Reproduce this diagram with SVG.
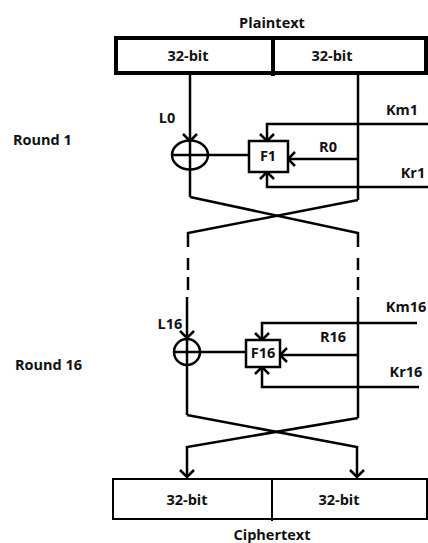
<svg xmlns="http://www.w3.org/2000/svg" width="428" height="543" viewBox="0 0 428 543">
<defs>
<style>
.t{font-family:"Open Sans","DejaVu Sans",sans-serif;font-weight:bold;font-size:14.5px;fill:#111;text-anchor:middle}
.tl{font-family:"Open Sans","DejaVu Sans",sans-serif;font-weight:bold;font-size:14.5px;fill:#111}
.ln{stroke:#000;stroke-width:2.5;fill:none}
.box{stroke:#000;fill:#fff}
</style>
<marker id="ah" viewBox="-10 -10 20 20" refX="0" refY="0" markerWidth="20" markerHeight="20" markerUnits="userSpaceOnUse" orient="auto">
<path d="M-7,-7 L0,0 L-7,7" fill="none" stroke="#000" stroke-width="2.5"/>
</marker>
</defs>
<rect width="428" height="543" fill="#fff"/>

<g id="plaintext">
<text class="t" x="272" y="28">Plaintext</text>
<rect class="box" x="116" y="38" width="310" height="35" stroke-width="4"/>
<line x1="273" y1="38" x2="273" y2="76" stroke="#000" stroke-width="4"/>
<text class="t" x="188" y="61">32-bit</text>
<text class="t" x="332" y="61">32-bit</text>
</g>

<g id="round1-label"><text class="tl" x="13" y="145">Round 1</text></g>
<g id="round16-label"><text class="tl" x="15" y="370">Round 16</text></g>

<g id="connectors">
<!-- Round 1 -->
<line class="ln" x1="190" y1="73" x2="190" y2="141" marker-end="url(#ah)"/>
<line class="ln" x1="190" y1="141" x2="190" y2="197"/>
<line class="ln" x1="358" y1="73" x2="358" y2="200"/>
<line class="ln" x1="208" y1="155" x2="249" y2="155"/>
<polyline class="ln" points="428,124 267,124 267,141" marker-end="url(#ah)"/>
<polyline class="ln" points="428,187 267,187 267,172" marker-end="url(#ah)"/>
<line class="ln" x1="358" y1="159" x2="288" y2="159" marker-end="url(#ah)"/>
<!-- cross 1 -->
<polyline class="ln" points="190,197 358,233 358,247"/>
<polyline class="ln" points="358,200 188,233 188,247"/>
<line class="ln" x1="188" y1="258" x2="188" y2="270"/>
<line class="ln" x1="188" y1="277" x2="188" y2="290"/>
<line class="ln" x1="358" y1="258" x2="358" y2="270"/>
<line class="ln" x1="358" y1="277" x2="358" y2="290"/>
<!-- Round 16 -->
<line class="ln" x1="187" y1="297" x2="187" y2="338" marker-end="url(#ah)"/>
<line class="ln" x1="187" y1="338" x2="187" y2="415"/>
<line class="ln" x1="358" y1="297" x2="358" y2="418"/>
<line class="ln" x1="200" y1="352" x2="246" y2="352"/>
<polyline class="ln" points="417,323 262,323 262,340" marker-end="url(#ah)"/>
<polyline class="ln" points="419,387 262,387 262,367" marker-end="url(#ah)"/>
<line class="ln" x1="358" y1="355" x2="280" y2="355" marker-end="url(#ah)"/>
<!-- cross 2 -->
<polyline class="ln" points="187,415 357,447 357,477" marker-end="url(#ah)"/>
<polyline class="ln" points="358,418 187,447 187,477" marker-end="url(#ah)"/>
</g>

<g id="xor1">
<ellipse cx="190" cy="155" rx="18" ry="14.5" fill="none" stroke="#000" stroke-width="2.5"/>
<line class="ln" x1="172" y1="155" x2="208" y2="155"/>
</g>
<g id="f1">
<rect class="box" x="249" y="141" width="39" height="31" stroke-width="2.5"/>
<text class="t" x="268" y="161">F1</text>
</g>
<g id="labels1">
<text class="t" x="167" y="123">L0</text>
<text class="t" x="402" y="115">Km1</text>
<text class="t" x="328" y="152">R0</text>
<text class="t" x="413" y="178">Kr1</text>
</g>

<g id="xor16">
<circle cx="187" cy="352" r="13" fill="none" stroke="#000" stroke-width="2.5"/>
<line class="ln" x1="174" y1="352" x2="200" y2="352"/>
</g>
<g id="f16">
<rect class="box" x="246" y="340" width="34" height="27" stroke-width="2.5"/>
<text class="t" x="263" y="358">F16</text>
</g>
<g id="labels16">
<text class="t" x="170" y="329">L16</text>
<text class="t" x="406" y="312">Km16</text>
<text class="t" x="333" y="342">R16</text>
<text class="t" x="406" y="377">Kr16</text>
</g>

<g id="ciphertext">
<rect class="box" x="113" y="479" width="314" height="40" stroke-width="2"/>
<line x1="272" y1="479" x2="272" y2="521" stroke="#000" stroke-width="2"/>
<text class="t" x="187" y="505">32-bit</text>
<text class="t" x="339" y="505">32-bit</text>
<text class="t" x="272" y="540">Ciphertext</text>
</g>
</svg>
